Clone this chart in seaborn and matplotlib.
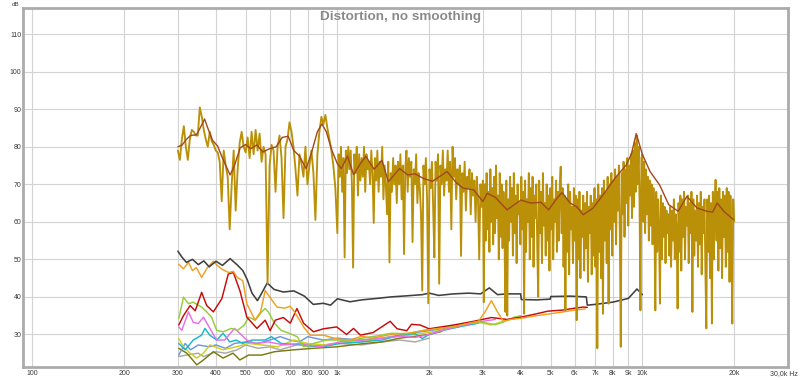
import numpy as np
import matplotlib
matplotlib.use("Agg")
import matplotlib.pyplot as plt
import seaborn as sns

# ---- data (frequency in Hz, level in dB) ----
# fundamental, no smoothing, split into four stretches of a log grid
gold_a = [79, 76.5, 82, 85.5, 80, 76.5, 82, 84.5, 84, 83,
          83, 90.5, 88, 84.5, 82, 80, 84, 81.5, 80.5, 79,
          78.5, 76, 65.5, 79, 75, 72, 58, 70, 79, 63,
          74, 81, 84, 80, 78.5, 82.5, 77, 84, 78, 84.5,
          79, 83.5, 76, 80, 78, 43.5, 75, 80.5, 79, 68,
          80, 83, 77, 61, 80, 82, 86.5, 84, 80, 74,
          67, 78, 75.5, 72, 80, 70, 75, 79, 73, 60.5,
          78, 84, 88, 86, 88.5, 85, 82, 79, 75, 69]
gold_b = [57, 78, 72, 80, 68, 77, 50.5, 79, 73, 80,
          74, 79, 70, 47.8, 78, 73, 80, 67, 78, 71,
          77, 72, 80, 68, 78, 74, 76, 70, 79, 73,
          59.7, 77, 71, 79, 68, 76, 72, 80, 66, 75,
          70, 62, 76, 49.2, 73, 68, 77, 70, 75, 65,
          76, 70, 78, 66, 75, 51.4, 74, 79, 68, 77,
          72, 76, 54.6, 74, 70, 78, 65, 73, 69, 62,
          41.7, 75, 70, 77, 66, 38.3, 74, 69, 76, 64,
          50.5, 76, 71, 78, 43.5, 75, 70, 79, 67, 74,
          71, 79, 68, 76, 58, 80, 72, 77, 66, 74,
          70, 75, 50.9, 73, 68, 76, 63, 72, 69, 74,
          62, 73, 67, 71, 60, 72, 66, 50, 70, 64]
gold_c = [71, 38.6, 70, 55, 73, 58, 68, 52, 74, 60,
          69, 54, 72, 57, 75, 61, 67, 50, 73, 56,
          70, 53, 68, 58, 36, 71, 35, 66, 55, 72,
          60, 69, 51, 73, 57, 67, 49, 70, 62, 65,
          54, 72, 58, 68, 35.5, 71, 52, 66, 60, 73,
          50, 69, 56, 72, 48, 67, 61, 70, 53, 40,
          71, 57, 68, 49, 73, 59, 65, 51, 70, 55,
          67, 47, 69, 58, 72, 50, 66, 60, 71, 52,
          68, 55, 70, 74.7, 57, 69, 48, 67, 36.4, 66,
          52, 70, 46, 68, 58, 64, 49, 69, 55, 67,
          33.8, 66, 50, 68, 45, 63, 56, 67, 47, 65,
          53, 68, 44, 64, 57, 67, 46, 65, 51, 69,
          48, 66, 26.3, 70, 52, 67, 45, 69, 35.5, 71,
          55, 68, 49, 72, 38.2, 70, 58, 73, 51, 71,
          60, 74, 54, 72, 63, 75, 57, 26.7, 73, 62,
          76, 56, 74, 65, 77, 59, 75, 67, 78, 61,
          79, 64, 81, 68, 83, 70, 80, 66, 36.4, 77]
gold_d = [78, 60, 76, 57, 74, 62, 72, 55, 71, 59,
          70, 54, 69, 61, 36.4, 68, 52, 66, 58, 38.2,
          67, 50, 65, 56, 64, 49, 63, 57, 62, 51,
          64, 48, 63, 55, 66, 50, 62, 58, 36.9, 65,
          52, 67, 47, 66, 56, 68, 50, 64, 59, 67,
          49, 65, 57, 68, 36, 66, 51, 63, 55, 67,
          48, 65, 54, 68, 46, 64, 57, 66, 47, 31.6,
          66, 52, 67, 45, 65, 32.9, 68, 50, 64, 71.2,
          55, 68, 47, 69, 53, 66, 45, 68, 56, 67,
          48, 69, 52, 68, 44, 67, 55, 32.9, 66, 60]

brown_f = [300, 310, 320, 330, 345, 355, 367, 378, 390, 405,
           420, 445, 460, 480, 500, 520, 545, 570, 600, 630,
           660, 690, 720, 750, 790, 820, 860, 890, 920, 960,
           1000, 1030, 1080, 1130, 1190, 1240, 1320, 1400, 1470, 1600,
           1700, 1800, 1910, 2050, 2290, 2450, 2580, 2800, 3000, 3100,
           3300, 3600, 4000, 4300, 4650, 4930, 5250, 5450, 5800, 6100,
           6400, 6900, 7430, 8200, 8850, 9200, 9550, 10000, 10600, 11400,
           12200, 13100, 14000, 15100, 16300, 17000, 17600, 18500, 19900]
brown_db = [80, 80.5, 82, 83, 83.2, 85, 87.4, 84.5, 81.7, 80.2,
            77, 72.5, 75, 79.7, 80.6, 79.5, 80.5, 78.6, 79.5, 80,
            82.5, 82.8, 79, 77.6, 74.2, 78, 84, 86.1, 84, 79,
            75.5, 74.2, 77.5, 72.6, 75.5, 77.5, 74, 76.4, 70.7, 74.2,
            72.5, 72.8, 71.6, 70.8, 73.4, 70.5, 69, 68.5, 65.4, 67.6,
            66.5, 63.2, 65.8, 65, 65.2, 63.2, 66.3, 67.8, 65, 64,
            61.9, 63.7, 67.2, 72, 75.1, 78, 83.5, 78, 73.4, 69.8,
            64.6, 62.8, 66.8, 63.7, 62.8, 62.6, 65, 62.8, 60.6]

thd_f = [300, 310, 320, 335, 350, 365, 380, 400, 420, 445,
         470, 490, 507, 525, 547, 565, 589, 620, 665, 720,
         780, 834, 900, 950, 1000, 1100, 1200, 1350, 1500, 1700,
         1900, 2000, 2150, 2400, 2700, 2950, 3150, 3350, 3600, 3990,
         4010, 4500, 4990, 5010, 5800, 6550, 6600, 7000, 8000, 9000,
         9600, 10000]
thd_db = [52.2, 50.5, 49.2, 50, 48.6, 49.6, 48, 49.5, 48.4, 50.2,
          48.5, 47, 44.5, 41, 39, 41, 43.7, 42, 41.3, 41.6,
          40.2, 38, 38.3, 37.8, 39.5, 38.7, 39.2, 39.6, 40, 40.3,
          40.6, 41, 40.4, 40.8, 41, 40.8, 42.4, 40.6, 40.8, 40.8,
          39.3, 39.2, 39.4, 40.1, 40.2, 40, 37.8, 38, 38.6, 39.6,
          42.1, 40.6]

orange_f = [302, 313, 325, 335, 345, 359, 375, 392, 405, 420,
            440, 456, 470, 490, 505, 537, 560, 580, 600, 634,
            673, 700, 724, 775, 814, 900, 995, 1100, 1200, 1300,
            1500, 1700, 1900, 2100, 2400, 2700, 2900, 3050, 3200, 3350,
            3500, 3700, 4000, 4500, 5000, 5500, 6000, 6500]
orange_db = [48.7, 47.5, 49.2, 47, 47.8, 45.2, 47.8, 49.5, 48.3, 47.3,
             46.5, 46.8, 45.2, 44.3, 38.2, 33.8, 36, 41.7, 40, 37.3,
             37, 37.5, 36, 32, 29.8, 29.8, 28.8, 28.5, 29.5, 29,
             30, 30.3, 31, 31.5, 32, 33, 33.5, 36, 39, 36,
             33.5, 34, 34.3, 35, 35.5, 36, 36.5, 36.8]

red_f = [302, 313, 329, 342, 359, 373, 392, 418, 439, 456,
         479, 505, 545, 580, 602, 626, 665, 701, 737, 775,
         835, 900, 995, 1072, 1130, 1190, 1310, 1490, 1570, 1690,
         1750, 1870, 2000, 2400, 2800, 3200, 3600, 4000, 4500, 4900,
         5500, 5900, 6400, 6600]
red_db = [32.5, 35, 37.7, 36.3, 41.2, 37.7, 36, 39.5, 46.1, 46.5,
          41.7, 34.6, 31.6, 33.8, 31, 33.8, 34.5, 33, 36.9, 33,
          30.7, 31.5, 32, 30, 31.6, 29.8, 30.5, 33.5, 31.5, 31,
          32.7, 32.5, 31.5, 32.5, 33.5, 34.5, 34, 34.6, 35.5, 36.2,
          36.5, 36.9, 37.3, 37.2]

green_f = [302, 313, 325, 337, 350, 359, 373, 387, 402, 422,
           449, 471, 495, 512, 538, 565, 579, 594, 623, 654,
           695, 738, 775, 835, 921, 1017, 1100, 1200, 1350, 1500,
           1700, 1900, 2100, 2400, 2700, 3000, 3300, 3500, 3800, 4000]
green_db = [34.2, 39.9, 38.2, 38.6, 37.8, 37.3, 36, 34.6, 31.1, 30.7,
            31.6, 31.1, 32.5, 34.6, 33.8, 36, 36.9, 36, 32.9, 31.1,
            30.3, 29.4, 26.7, 27.6, 28.5, 28.5, 28.2, 29, 29.6, 30.3,
            30.2, 31, 31.6, 32.2, 33, 33.2, 32.6, 33.3, 34.6, 35]

pink_f = [302, 309, 325, 337, 350, 364, 382, 402, 427, 460,
          479, 505, 538, 594, 668, 756, 879, 1017, 1200, 1400,
          1600, 1800, 2000, 2300, 2600, 3000, 3300]
pink_db = [32, 31.1, 36, 33.2, 32.9, 34.6, 31.6, 28.5, 28.5, 31.6,
           30.3, 28.5, 27.6, 28, 27.2, 27.6, 26.7, 28, 28.5, 29,
           29.5, 29.2, 30, 31.5, 32.5, 33.5, 34]

cyan_f = [302, 317, 337, 359, 368, 382, 402, 422, 444, 466,
          489, 525, 579, 608, 654, 756, 900, 1017, 1200, 1400,
          1600, 1800, 1900, 2000, 2200, 2500, 2900]
cyan_db = [27.6, 25.9, 28.5, 29.8, 31.6, 29.8, 28.5, 30.3, 28, 28.5,
           27.6, 28.5, 28.5, 29.4, 27.6, 27.2, 26.7, 27.6, 28, 28.5,
           29.8, 30.2, 28.9, 30, 31, 32, 33]

blue_f = [302, 317, 330, 350, 380, 400, 430, 460, 500, 550,
          600, 650, 700, 750, 800, 900, 1000, 1200, 1400, 1600,
          1800, 2000, 2200, 2500]
blue_db = [24.5, 27.6, 25.9, 27.2, 26.7, 27.2, 26.3, 27.6, 28, 27.6,
           28.5, 29.4, 28.5, 28, 29.4, 28.5, 29, 28.5, 29, 29.8,
           30.5, 31, 31.5, 32]

yellow_f = [302, 313, 329, 346, 364, 382, 422, 466, 512, 565,
            638, 720, 796, 900, 1017, 1200, 1400, 1600, 1800, 2000,
            2300, 2600, 2900, 3200, 3500, 3900]
yellow_db = [28.9, 26.7, 25, 23.7, 25, 27.2, 25.9, 26.7, 27.6, 27.2,
             26.7, 28.5, 27.6, 27.2, 27.6, 28, 29, 29.5, 30, 30.5,
             31.5, 32.5, 33.3, 32.5, 33.5, 34.5]

olive_f = [302, 321, 346, 364, 392, 422, 455, 479, 512, 565,
           623, 720, 835, 995, 1200, 1400, 1600, 1800, 2000, 2200]
olive_db = [26.3, 25, 21.9, 23.2, 25.4, 23.7, 25, 23.2, 24.5, 24.5,
            25.4, 25.9, 26.3, 26.7, 27.5, 28, 29, 29.5, 30, 30.8]

lgray_f = [302, 320, 350, 364, 400, 430, 470, 500, 550, 600,
           650, 700, 760, 800, 900, 1000, 1200, 1400, 1600, 1800, 2000]
lgray_db = [24.1, 24.5, 25, 24.1, 25.4, 25, 25.9, 27.2, 26.3, 26.7,
            25.9, 26.7, 27.6, 26.7, 27.2, 27.6, 27.2, 28, 28.5, 28, 29]

x_ticks = [100, 200, 300, 400, 500, 600, 700, 800, 900, 1000,
           2000, 3000, 4000, 5000, 6000, 7000, 8000, 9000, 10000, 20000, 30000]
x_labels = ['100', '200', '300', '400', '500', '600', '700', '800', '900', '1k',
            '2k', '3k', '4k', '5k', '6k', '7k', '8k', '9k', '10k', '20k', '']
y_ticks = [30, 40, 50, 60, 70, 80, 90, 100, 110]

# frequency grid of the unsmoothed fundamental
gold_f = np.concatenate([
    np.geomspace(300, 1000, len(gold_a), endpoint=False),
    np.geomspace(1000, 3000, len(gold_b), endpoint=False),
    np.geomspace(3000, 10000, len(gold_c), endpoint=False),
    np.geomspace(10000, 20000, len(gold_d)),
])
gold_db = gold_a + gold_b + gold_c + gold_d

sns.set_theme(style="white")
plt.rcParams['font.family'] = ['Liberation Sans', 'DejaVu Sans']

fig = plt.figure(figsize=(8, 3.8), dpi=100)
ax = fig.add_axes([23.3 / 800, 1 - 366.7 / 380, (788.3 - 23.3) / 800, (366.7 - 8.3) / 380])
ax.set_xscale('log')

small = [
    (lgray_f, lgray_db, '#A8A8A8'),
    (olive_f, olive_db, '#7A7A10'),
    (blue_f, blue_db, '#6A98E0'),
    (yellow_f, yellow_db, '#CFCF20'),
    (cyan_f, cyan_db, '#18B8CC'),
    (pink_f, pink_db, '#E870E8'),
    (green_f, green_db, '#96CC3A'),
    (red_f, red_db, '#C80A0A'),
    (orange_f, orange_db, '#F0A020'),
]
for f, db, c in small:
    sns.lineplot(x=f, y=db, color=c, lw=1.05, ax=ax, estimator=None, sort=False)

sns.lineplot(x=thd_f, y=thd_db, color='#404040', lw=1.15, ax=ax, estimator=None, sort=False)
sns.lineplot(x=gold_f, y=gold_db, color='#BA9008', lw=1.35, ax=ax, estimator=None, sort=False)
sns.lineplot(x=brown_f, y=brown_db, color='#A0481C', lw=1.0, ax=ax, estimator=None, sort=False)

ax.set_xlim(93.4, 30100)
ax.set_ylim(21.4, 116.9)
ax.set_xticks(x_ticks)
ax.set_xticklabels(x_labels)
ax.xaxis.set_minor_locator(matplotlib.ticker.NullLocator())
ax.set_yticks(y_ticks)
ax.set_yticklabels([str(v) for v in y_ticks])
ax.tick_params(axis='both', length=0, labelsize=5, colors='#3A3A3A')
ax.tick_params(axis='x', pad=2.2)
ax.tick_params(axis='y', pad=1.5)
ax.grid(True, color='#D3D3D3', lw=0.8)
ax.set_axisbelow(True)
for s in ax.spines.values():
    s.set_color('#ABABAB')
    s.set_linewidth(2)
ax.set_xlabel('')
ax.set_ylabel('')

fig.text(0.5, 1 - 17 / 380, 'Distortion, no smoothing', ha='center', va='center',
         fontsize=9.7, fontweight='bold', color='#8A8A8A')
fig.text(16 / 800, 1 - 4 / 380, 'dB', ha='center', va='center', fontsize=4.5, color='#3A3A3A')
fig.text(798 / 800, 1 - 374 / 380, '30,0k Hz', ha='right', va='center', fontsize=5, color='#3A3A3A')

fig.savefig('out.png', dpi=100)
